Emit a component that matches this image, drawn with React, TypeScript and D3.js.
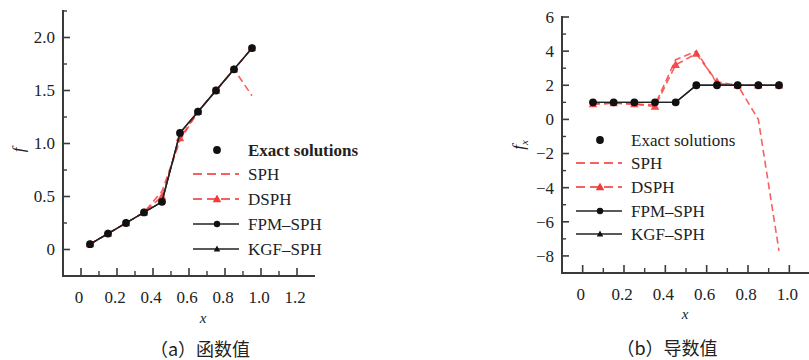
import React from "react";
import * as d3 from "d3";

// Sample positions shared by every series
const xs = [0.05, 0.15, 0.25, 0.35, 0.45, 0.55, 0.65, 0.75, 0.85, 0.95];

// (a) function values
const fExact = [0.05, 0.15, 0.25, 0.35, 0.45, 1.1, 1.3, 1.5, 1.7, 1.9];
const fSPH = [0.05, 0.15, 0.25, 0.35, 0.55, 1.03, 1.3, 1.5, 1.7, 1.45];
const fDSPH = [0.05, 0.15, 0.25, 0.35, 0.5, 1.05, 1.3, 1.5, 1.7, 1.9];
const fFPM = [0.05, 0.15, 0.25, 0.35, 0.45, 1.1, 1.3, 1.5, 1.7, 1.9];
const fKGF = [0.05, 0.15, 0.25, 0.35, 0.45, 1.1, 1.3, 1.5, 1.7, 1.9];

// (b) derivative values
const dExact = [1, 1, 1, 1, 1, 2, 2, 2, 2, 2];
const dSPH = [0.9, 0.95, 0.9, 0.85, 3.5, 4.0, 2.1, 2.0, 0.0, -7.7];
const dDSPH = [0.9, 0.95, 0.9, 0.75, 3.2, 3.85, 2.2, 2.0, 2.0, 2.0];
const dFPM = [1, 1, 1, 1, 1, 2, 2, 2, 2, 2];
const dKGF = [1, 1, 1, 1, 1, 2, 2, 2, 2, 2];

const legendNames = ["Exact solutions", "SPH", "DSPH", "FPM\u2013SPH", "KGF\u2013SPH"];

const leftXTicks = [0, 0.2, 0.4, 0.6, 0.8, 1.0, 1.2];
const leftYTicks = [0, 0.5, 1.0, 1.5, 2.0];
const rightXTicks = [0, 0.2, 0.4, 0.6, 0.8, 1.0];
const rightYTicks = [-8, -6, -4, -2, 0, 2, 4, 6];

const RED = "#f23a3a";
const AXIS = "#3a3a3a";
const FONT = "'Liberation Serif', 'DejaVu Serif', serif";

type PanelProps = {
  xDomain: [number, number];
  xRange: [number, number];
  yDomain: [number, number];
  yRange: [number, number];
  xTicks: number[];
  xMinor: number[];
  yTicks: number[];
  yMinor: number[];
  fmtX: (v: number) => string;
  fmtY: (v: number) => string;
  exact: number[];
  sph: number[];
  dsph: number[];
  fpm: number[];
  kgf: number[];
  legend: { x: number; ys: number[]; boldFirst: boolean };
  yLabel: React.ReactNode;
  yLabelPos: [number, number];
  xLabelPos: [number, number];
  caption: string;
  captionPos: [number, number];
  xLabelBaseline: number;
};

function tri(cx: number, cy: number, s: number) {
  return `M${cx},${cy - s}L${cx + s * 0.95},${cy + s * 0.7}L${cx - s * 0.95},${cy + s * 0.7}Z`;
}

function Panel(p: PanelProps) {
  const x = d3.scaleLinear().domain(p.xDomain).range(p.xRange);
  const y = d3.scaleLinear().domain(p.yDomain).range(p.yRange);
  const line = (vals: number[]) =>
    d3
      .line<number>()
      .x((_, i) => x(xs[i]))
      .y((v) => y(v))(vals) || "";

  const x0 = p.xRange[0];
  const yb = p.yRange[0];
  const lg = p.legend;
  const lx0 = lg.x - 24;
  const lx1 = lg.x + 22;
  const tx = lg.x + 31;

  return (
    <g>
      {/* red series */}
      <path d={line(p.sph)} fill="none" stroke={RED} strokeWidth={1.6} strokeDasharray="7,4" opacity={0.8} />
      <path d={line(p.dsph)} fill="none" stroke={RED} strokeWidth={1.6} strokeDasharray="7,4" opacity={0.8} />
      {p.dsph.map((v, i) => (
        <path key={"dt" + i} d={tri(x(xs[i]), y(v), 4.5)} fill={RED} opacity={0.9} />
      ))}
      {/* black series */}
      <path d={line(p.kgf)} fill="none" stroke="#222" strokeWidth={1.4} />
      <path d={line(p.fpm)} fill="none" stroke="#222" strokeWidth={1.4} />
      {p.kgf.map((v, i) => (
        <path key={"kt" + i} d={tri(x(xs[i]), y(v), 3.4)} fill="#111" />
      ))}
      {p.fpm.map((v, i) => (
        <circle key={"fc" + i} cx={x(xs[i])} cy={y(v)} r={3.2} fill="#111" />
      ))}
      {p.exact.map((v, i) => (
        <circle key={"ec" + i} cx={x(xs[i])} cy={y(v)} r={3.9} fill="#111" />
      ))}

      {/* axes */}
      <line x1={x0} x2={x0} y1={p.yRange[1] - 1} y2={yb + 1} stroke={AXIS} strokeWidth={2} />
      <line x1={x0 - 1} x2={p.xRange[1]} y1={yb} y2={yb} stroke={AXIS} strokeWidth={2} />
      {p.yTicks.map((t) => (
        <g key={"yt" + t}>
          <line x1={x0} x2={x0 + 7} y1={y(t)} y2={y(t)} stroke={AXIS} strokeWidth={1.6} />
          <text x={x0 - 8} y={y(t)} dy="0.35em" textAnchor="end" fontSize={17} fontFamily={FONT} fill="#222">
            {p.fmtY(t)}
          </text>
        </g>
      ))}
      {p.yMinor.map((t) => (
        <line key={"ym" + t} x1={x0} x2={x0 + 4} y1={y(t)} y2={y(t)} stroke={AXIS} strokeWidth={1.4} />
      ))}
      {p.xMinor.map((t) => (
        <line key={"xm" + t} x1={x(t)} x2={x(t)} y1={yb} y2={yb - 5} stroke={AXIS} strokeWidth={1.4} />
      ))}
      {p.xTicks.map((t) => (
        <g key={"xt" + t}>
          <line x1={x(t)} x2={x(t)} y1={yb} y2={yb - 8} stroke={AXIS} strokeWidth={1.6} />
          <text x={x(t) - 2} y={p.xLabelBaseline} textAnchor="middle" fontSize={17} fontFamily={FONT} fill="#222">
            {p.fmtX(t)}
          </text>
        </g>
      ))}

      {/* axis labels */}
      <text x={p.xLabelPos[0]} y={p.xLabelPos[1]} textAnchor="middle" fontSize={15} fontStyle="italic" fontFamily={FONT} fill="#222">
        x
      </text>
      <g transform={`translate(${p.yLabelPos[0]},${p.yLabelPos[1]}) rotate(-90)`}>{p.yLabel}</g>
      <text x={p.captionPos[0]} y={p.captionPos[1]} textAnchor="middle" fontSize={18} fontFamily={"'Noto Sans CJK SC', " + FONT} fill="#222">
        {p.caption}
      </text>

      {/* legend */}
      <circle cx={lg.x} cy={lg.ys[0]} r={3.9} fill="#111" />
      <line x1={lx0} x2={lx1} y1={lg.ys[1]} y2={lg.ys[1]} stroke={RED} strokeWidth={1.8} strokeDasharray="9,5" opacity={0.8} />
      <line x1={lx0} x2={lx1} y1={lg.ys[2]} y2={lg.ys[2]} stroke={RED} strokeWidth={1.8} strokeDasharray="9,5" opacity={0.8} />
      <path d={tri(lg.x, lg.ys[2], 4.5)} fill={RED} />
      <line x1={lx0} x2={lx1} y1={lg.ys[3]} y2={lg.ys[3]} stroke="#222" strokeWidth={1.6} />
      <circle cx={lg.x} cy={lg.ys[3]} r={3.2} fill="#111" />
      <line x1={lx0} x2={lx1} y1={lg.ys[4]} y2={lg.ys[4]} stroke="#222" strokeWidth={1.6} />
      <path d={tri(lg.x, lg.ys[4], 3.4)} fill="#111" />
      {legendNames.map((n, i) => (
        <text
          key={n}
          x={tx}
          y={lg.ys[i]}
          dy="0.35em"
          fontSize={17}
          fontWeight={i === 0 && lg.boldFirst ? "bold" : "normal"}
          fontFamily={FONT}
          fill="#222"
        >
          {n}
        </text>
      ))}
    </g>
  );
}

const range = (a: number, b: number, s: number) => d3.range(a, b + s / 2, s).map((v) => +v.toFixed(4));

export default function App() {
  return (
    <svg width={809} height={360} style={{ position: "absolute", left: 0, top: 0, background: "#fff" }}>
      <Panel
        xDomain={[-0.1, 1.3]}
        xRange={[63, 315]}
        yDomain={[-0.25, 2.25]}
        yRange={[276, 11]}
        xTicks={leftXTicks}
        xMinor={range(0.1, 1.1, 0.2)}
        yTicks={leftYTicks}
        yMinor={[-0.25, 0.25, 0.75, 1.25, 1.75, 2.25]}
        fmtX={(v) => (v === 0 ? "0" : d3.format(".1f")(v))}
        fmtY={(v) => (v === 0 ? "0" : d3.format(".1f")(v))}
        exact={fExact}
        sph={fSPH}
        dsph={fDSPH}
        fpm={fFPM}
        kgf={fKGF}
        legend={{ x: 217, ys: [150, 174, 199, 224, 249], boldFirst: true }}
        yLabel={
          <text textAnchor="middle" fontSize={17} fontStyle="italic" fontFamily={FONT} fill="#222">
            f
          </text>
        }
        yLabelPos={[24, 150]}
        xLabelPos={[203, 323]}
        xLabelBaseline={303}
        caption={"\uff08a\uff09函数值"}
        captionPos={[200, 356]}
      />
      <Panel
        xDomain={[-0.1, 1.1]}
        xRange={[562, 810]}
        yDomain={[-9, 6]}
        yRange={[273, 17]}
        xTicks={rightXTicks}
        xMinor={range(0.1, 0.9, 0.2)}
        yTicks={rightYTicks}
        yMinor={range(-9, 5, 2)}
        fmtX={(v) => (v === 0 ? "0" : d3.format(".1f")(v))}
        fmtY={(v) => (v < 0 ? "\u2212" + Math.abs(v) : String(v))}
        exact={dExact}
        sph={dSPH}
        dsph={dDSPH}
        fpm={dFPM}
        kgf={dKGF}
        legend={{ x: 600, ys: [140, 163, 187, 211, 234], boldFirst: false }}
        yLabel={
          <text textAnchor="middle" fontSize={17} fontStyle="italic" fontFamily={FONT} fill="#222">
            f<tspan fontSize={11} dy={4}>x</tspan>
          </text>
        }
        yLabelPos={[524, 145]}
        xLabelPos={[685, 319]}
        xLabelBaseline={300}
        caption={"\uff08b\uff09导数值"}
        captionPos={[667, 355]}
      />
    </svg>
  );
}
